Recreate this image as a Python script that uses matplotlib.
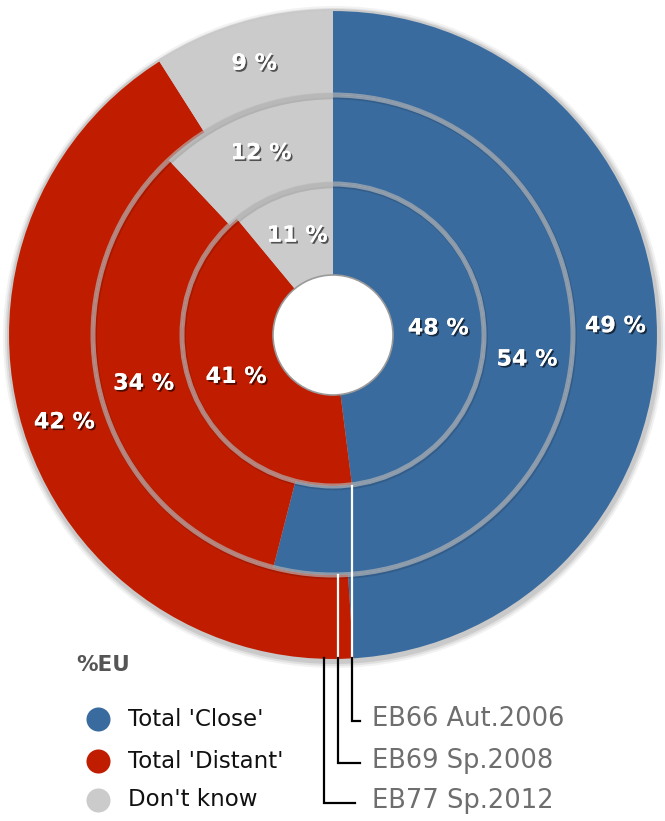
import matplotlib
matplotlib.use('Agg')
from matplotlib import pyplot as plt
from matplotlib import patheffects
from matplotlib.patches import Circle

# Survey waves, inner ring first
surveys = ['EB66 Aut.2006', 'EB69 Sp.2008', 'EB77 Sp.2012']
close = [48, 54, 49]
distant = [41, 34, 42]
dont_know = [11, 12, 9]
categories = ["Total 'Close'", "Total 'Distant'", "Don't know"]
colors = ['#3a6b9e', '#c01c00', '#cbcbcb']

W, H = 665, 821
cx, cy = 333, H - 335          # pie centre in pixel coords (y up)
radii = [151, 240, 325]        # outer edge of each ring
hole = 60

fig = plt.figure(figsize=(W / 100, H / 100), dpi=100)
ax = fig.add_axes([0, 0, 1, 1])

shadow = [patheffects.withSimplePatchShadow(offset=(1.3, -1.3), shadow_rgbFace='black', alpha=0.6),
          patheffects.Normal()]

# soft drop shadow behind the whole donut
for k, a in [(6, 0.12), (4, 0.2), (2, 0.3)]:
    ax.add_patch(Circle((cx + 1, cy - 2), radii[-1] + k, color='#9a9a9a', alpha=a, lw=0, zorder=0))

inner_edges = [hole] + radii[:-1]
for i in range(3):
    vals = [close[i], distant[i], dont_know[i]]
    r = radii[i]
    w = r - inner_edges[i]
    ax.pie(vals, radius=r, center=(cx, cy), startangle=90, counterclock=False,
           colors=colors, wedgeprops=dict(width=w, linewidth=0),
           autopct=lambda p: f'{p:.0f} %', pctdistance=(r - w / 2) / r,
           textprops=dict(color='white', fontsize=16, fontweight='bold',
                          path_effects=shadow))

# grey separators between the rings, with a faint shadow
for r in radii[:-1]:
    ax.add_patch(Circle((cx + 0.8, cy - 1.2), r, fill=False, edgecolor='black', alpha=0.12, lw=4.5, zorder=5))
    ax.add_patch(Circle((cx, cy), r, fill=False, edgecolor='#bcbcbc', alpha=0.65, lw=3.6, zorder=5))
ax.add_patch(Circle((cx, cy), radii[-1], fill=False, edgecolor='#c9c9c9', lw=1.5, zorder=5))

ax.add_patch(Circle((cx, cy), hole, facecolor='white', edgecolor='#9a9a9a', lw=1.2, zorder=6))

# callout lines from each ring to its survey label
offsets = [19, 5, -9]
label_y = [721, 763, 803]
tail_x = [360, 360, 355]
bottom = cy - radii[-1] + 2
for i in range(3):
    x = cx + offsets[i]
    y_lab = H - label_y[i]
    if i < 2:
        ax.plot([x, x], [cy - radii[i], bottom], color='white', lw=1.6, zorder=7)
    ax.plot([x, x, tail_x[i]], [bottom, y_lab, y_lab], color='black', lw=1.6, zorder=7,
            solid_joinstyle='miter')
    ax.text(372, y_lab + 2, surveys[i], color='#6e6e6e', fontsize=18.5, va='center', ha='left')

# legend
ax.text(76, H - 665, '%EU', color='#555555', fontsize=15.5, fontweight='bold', va='center')
leg_y = [719, 761, 800]
for i in range(3):
    ax.scatter([98], [H - leg_y[i]], s=300, color=colors[i], linewidths=0, zorder=3)
    ax.text(128, H - leg_y[i], categories[i], color='#111111', fontsize=16.5, va='center')

ax.set_xlim(0, W)
ax.set_ylim(0, H)
ax.set_aspect('equal')
ax.axis('off')
plt.savefig('out.png', dpi=100)
